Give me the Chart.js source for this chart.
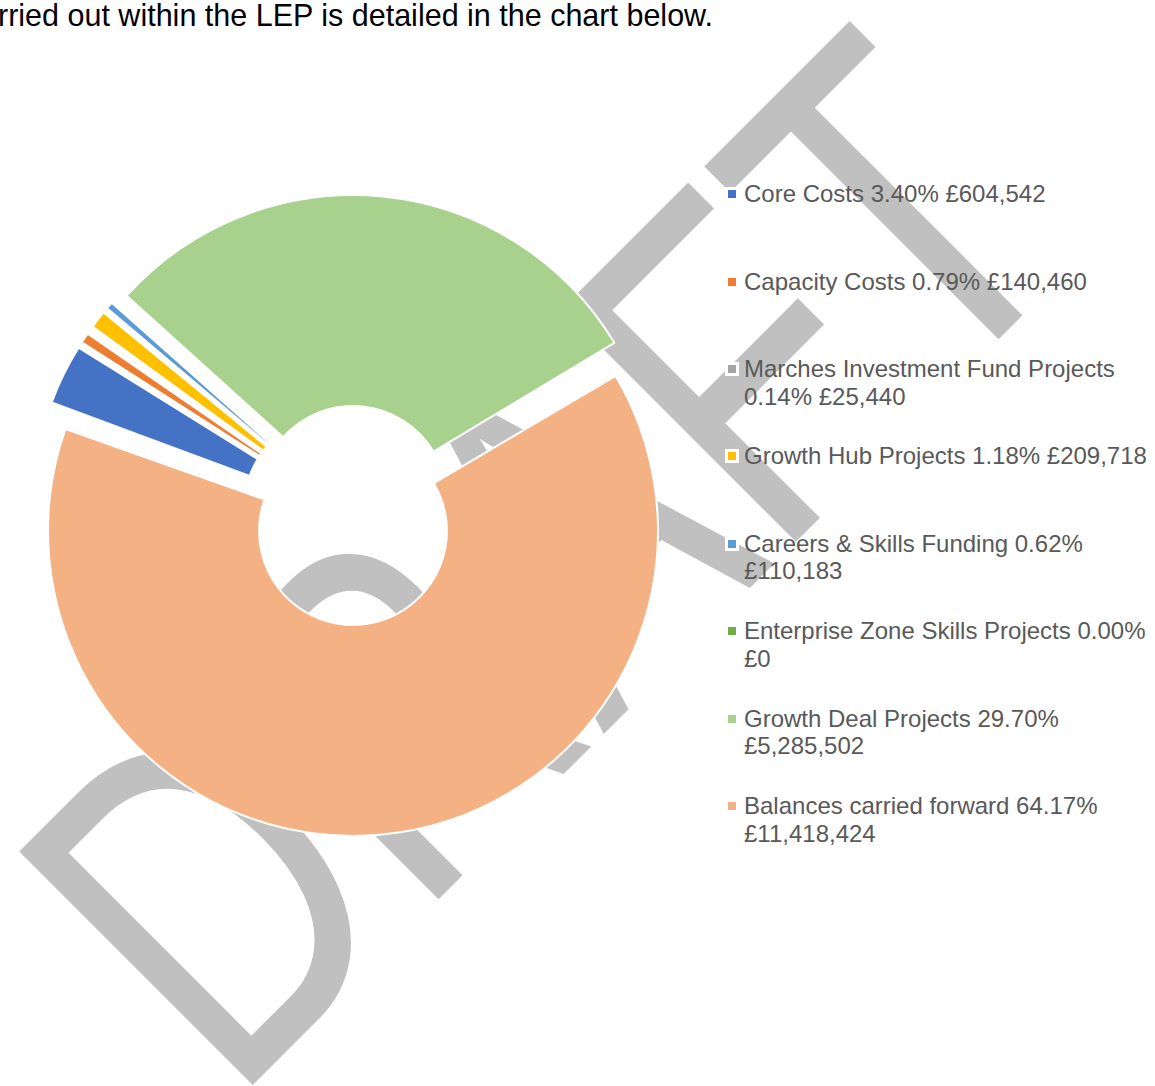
<!DOCTYPE html>
<html>
<head>
<meta charset="utf-8">
<script src="https://cdn.jsdelivr.net/npm/chart.js@4.4.1/dist/chart.umd.min.js"></script>
<style>
  html, body {
    margin: 0;
    padding: 0;
    background: #fff;
    width: 1155px;
    height: 1086px;
    overflow: hidden;
  }
  body {
    position: relative;
    font-family: "Liberation Sans", Arial, sans-serif;
  }
  #intro {
    position: absolute;
    left: -2px;
    top: 0;
    font-size: 30.5px;
    line-height: 1;
    color: #000;
    white-space: nowrap;
  }
  #watermark {
    position: absolute;
    left: 543px;
    top: 560px;
    font-size: 480px;
    line-height: 1;
    color: #c0c0c0;
    white-space: nowrap;
    font-kerning: none;
    transform: translate(-50%, -50%) rotate(-45deg) scaleX(0.758);
  }
  #myChart {
    position: absolute;
    left: 21px;
    top: 185px;
  }
  .legend-item {
    position: absolute;
    left: 744px;
    width: 415px;
    font-size: 24px;
    line-height: 27.6px;
    color: #595959;
  }
  .legend-box {
    position: absolute;
    left: -19px;
    top: 7px;
    width: 8px;
    height: 8px;
    border: 3px solid #fff;
  }
</style>
</head>
<body>
<div id="intro">rried out within the LEP is detailed in the chart below.</div>
<div id="watermark">DRAFT</div>
<canvas id="myChart" width="661" height="661"></canvas>
<div id="legend"></div>
<script>
const categories = [
  "Core Costs",
  "Capacity Costs",
  "Marches Investment Fund Projects",
  "Growth Hub Projects",
  "Careers & Skills Funding",
  "Enterprise Zone Skills Projects",
  "Growth Deal Projects",
  "Balances carried forward",
];
const amounts = [604542, 140460, 25440, 209718, 110183, 0, 5285502, 11418424];
const colors = [
  "#4472C4",
  "#ED7D31",
  "#A5A5A5",
  "#FFC000",
  "#5B9BD5",
  "#70AD47",
  "#A9D18E",
  "#F4B183",
];

const total = amounts.reduce((a, b) => a + b, 0);
const labels = categories.map(
  (c, i) =>
    c + " " + ((amounts[i] / total) * 100).toFixed(2) + "% £" +
    amounts[i].toLocaleString("en-GB")
);

// legend on the right, one entry every 87.4px
const legend = document.getElementById("legend");
labels.forEach((text, i) => {
  const item = document.createElement("div");
  item.className = "legend-item";
  item.style.top = 180.2 + i * 87.4 + "px";
  const box = document.createElement("span");
  box.className = "legend-box";
  box.style.background = colors[i];
  item.appendChild(box);
  item.appendChild(document.createTextNode(text));
  legend.appendChild(item);
});

// arc offset also grows the radius of wide slices; undo that part
const keepRadius = {
  id: "keepRadius",
  beforeDatasetsDraw(chart) {
    const meta = chart.getDatasetMeta(0);
    const ctrl = meta.controller;
    meta.data.forEach((arc) => {
      const shift = (arc.options.offset || 0) / 4;
      const fix = 1 - Math.sin(Math.min(Math.PI, arc.circumference || 0));
      arc.outerRadius = ctrl.outerRadius - shift * fix;
      arc.innerRadius = ctrl.innerRadius - shift * fix;
    });
  },
};

const ctx_1 = document.getElementById("myChart");

new Chart(ctx_1, {
  type: "doughnut",
  data: {
    labels: categories,
    datasets: [
      {
        data: amounts,
        backgroundColor: colors,
        borderColor: "#ffffff",
        borderWidth: 2,
        hoverBorderWidth: 2,
        offset: 62,
        hoverOffset: 62,
      },
    ],
  },
  options: {
    responsive: false,
    animation: false,
    events: [],
    rotation: 290,
    radius: 305,
    cutout: "30.8%",
    plugins: {
      legend: { display: false },
      tooltip: { enabled: false },
    },
  },
  plugins: [keepRadius],
});
</script>
</body>
</html>
